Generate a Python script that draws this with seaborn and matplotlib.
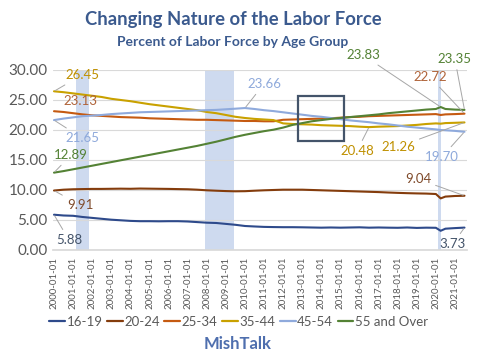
import numpy as np
import pandas as pd
import matplotlib
matplotlib.use("Agg")
import matplotlib.pyplot as plt
import matplotlib.dates as mdates
from matplotlib.patches import Rectangle
import seaborn as sns

# ---------------- data ----------------
dates = ["2000-01", "2000-07", "2001-01", "2001-07", "2002-01", "2002-07", "2003-01", "2003-07",
         "2004-01", "2004-07", "2005-01", "2005-07", "2006-01", "2006-07", "2007-01", "2007-07",
         "2008-01", "2008-07", "2009-01", "2009-07", "2010-01", "2010-07", "2011-01", "2011-07",
         "2012-01", "2012-07", "2013-01", "2013-07", "2014-01", "2014-07", "2015-01", "2015-07",
         "2016-01", "2016-07", "2017-01", "2017-07", "2018-01", "2018-07", "2019-01", "2019-07",
         "2020-01", "2020-04", "2020-07", "2021-01", "2021-07"]

age_16_19 = [5.88, 5.75, 5.70, 5.50, 5.35, 5.20, 5.05, 4.95, 4.85, 4.80, 4.80, 4.78, 4.80, 4.80, 4.75,
             4.65, 4.55, 4.50, 4.35, 4.20, 4.00, 3.92, 3.85, 3.82, 3.80, 3.80, 3.78, 3.75, 3.72, 3.75,
             3.72, 3.75, 3.78, 3.72, 3.75, 3.72, 3.70, 3.75, 3.68, 3.72, 3.70, 3.20, 3.55, 3.65, 3.73]
age_20_24 = [9.91, 10.05, 10.12, 10.15, 10.18, 10.18, 10.20, 10.22, 10.20, 10.24, 10.22, 10.20, 10.18,
             10.15, 10.12, 10.05, 9.95, 9.88, 9.82, 9.78, 9.80, 9.88, 9.95, 10.00, 10.05, 10.05, 10.05,
             10.00, 9.95, 9.90, 9.85, 9.80, 9.75, 9.70, 9.65, 9.58, 9.52, 9.47, 9.43, 9.40, 9.33, 8.60,
             8.90, 9.00, 9.04]
age_25_34 = [23.13, 23.00, 22.80, 22.60, 22.45, 22.35, 22.25, 22.15, 22.10, 22.05, 21.95, 21.90, 21.85,
             21.80, 21.75, 21.70, 21.70, 21.65, 21.60, 21.55, 21.50, 21.50, 21.45, 21.45, 21.70, 21.75,
             21.80, 21.85, 21.90, 21.95, 22.05, 22.15, 22.20, 22.30, 22.35, 22.40, 22.45, 22.50, 22.55,
             22.60, 22.65, 22.50, 22.60, 22.65, 22.72]
age_35_44 = [26.45, 26.30, 26.10, 25.90, 25.70, 25.50, 25.20, 25.00, 24.80, 24.55, 24.30, 24.10, 23.90,
             23.70, 23.50, 23.30, 23.00, 22.80, 22.50, 22.20, 22.00, 21.85, 21.75, 21.65, 21.10, 21.00,
             20.95, 20.90, 20.80, 20.75, 20.70, 20.65, 20.55, 20.48, 20.55, 20.60, 20.65, 20.75, 20.85,
             21.00, 21.10, 21.05, 21.15, 21.20, 21.26]
age_45_54 = [21.65, 21.90, 22.10, 22.30, 22.40, 22.50, 22.65, 22.75, 22.85, 22.95, 23.00, 23.05, 23.10,
             23.15, 23.20, 23.25, 23.30, 23.35, 23.45, 23.55, 23.66, 23.50, 23.30, 23.15, 22.95, 22.75,
             22.55, 22.35, 22.20, 22.00, 21.80, 21.60, 21.45, 21.30, 21.10, 20.95, 20.75, 20.55, 20.40,
             20.25, 20.10, 20.00, 19.95, 19.85, 19.70]
age_55_over = [12.89, 13.15, 13.45, 13.75, 14.05, 14.35, 14.65, 14.95, 15.25, 15.55, 15.85, 16.15, 16.45,
               16.75, 17.05, 17.35, 17.70, 18.05, 18.45, 18.85, 19.20, 19.50, 19.80, 20.05, 20.40, 20.85,
               21.15, 21.45, 21.65, 21.85, 22.00, 22.15, 22.30, 22.45, 22.60, 22.80, 22.95, 23.10, 23.25,
               23.40, 23.50, 23.83, 23.50, 23.40, 23.35]

groups = ["16-19", "20-24", "25-34", "35-44", "45-54", "55 and Over"]
series = [age_16_19, age_20_24, age_25_34, age_35_44, age_45_54, age_55_over]

recessions = [("2001-03-01", "2001-11-01"), ("2007-12-01", "2009-06-01"), ("2020-02-01", "2020-04-01")]
tick_years = list(range(2000, 2022))
y_ticks = [0, 5, 10, 15, 20, 25, 30]

# ---------------- styling ----------------
line_colors = ["#2E4A8B", "#843C0C", "#C55A11", "#C9A100", "#8FAADC", "#548235"]
label_colors = ["#44546A", "#7F4A2A", "#B0643A", "#BF9000", "#8EA9DB", "#548235"]

sns.set_theme(style="white")
plt.rcParams["font.family"] = ["Lato", "DejaVu Sans"]

dt = pd.to_datetime(dates)
df = pd.concat([pd.DataFrame({"date": dt, "value": v, "group": g}) for g, v in zip(groups, series)],
               ignore_index=True)

fig = plt.figure(figsize=(5.0, 3.58), dpi=100)
ax = fig.add_axes([0.106, 0.3017, 0.828, 0.5028])

for a, b in recessions:
    ax.axvspan(pd.Timestamp(a), pd.Timestamp(b), color="#B4C7E7", alpha=0.65, lw=0, zorder=0)

sns.lineplot(data=df, x="date", y="value", hue="group", hue_order=groups,
             palette=dict(zip(groups, line_colors)), linewidth=1.5, ax=ax, legend=False, zorder=3)

ax.set_ylim(0, 30)
ax.set_xlim(pd.Timestamp("1999-12-13"), pd.Timestamp("2021-08-18"))
ax.set_yticks(y_ticks)
ax.set_yticklabels([f"{t:.2f}" for t in y_ticks], fontsize=11, color="#595959")
xt = [pd.Timestamp(f"{y}-01-01") for y in tick_years]
ax.set_xticks(xt)
ax.set_xticklabels([t.strftime("%Y-%m-%d") for t in xt], rotation=90, fontsize=7, color="#595959")
ax.tick_params(axis="y", length=0, pad=4)
ax.tick_params(axis="x", length=3, color="#D9D9D9", pad=2)
ax.grid(axis="y", color="#D9D9D9", lw=0.8, zorder=1)
ax.grid(axis="x", visible=False)
for s in ["top", "right", "left"]:
    ax.spines[s].set_visible(False)
ax.spines["bottom"].set_color("#D9D9D9")
ax.set_xlabel("")
ax.set_ylabel("")

# highlighted box
x0 = mdates.date2num(pd.Timestamp("2012-10-08"))
x1 = mdates.date2num(pd.Timestamp("2015-03-07"))
ax.add_patch(Rectangle((x0, 18.17), x1 - x0, 7.5, fill=False, edgecolor="#44546A", lw=1.6, zorder=5))

# data labels: (series index, point index, text position x px, text y px, leader?)
def px2date(px):
    yrs = 2000 + (px - 54) / 19.1
    return mdates.date2num(pd.Timestamp("2000-01-01")) + (yrs - 2000) * 365.25

def py2val(py):
    return (250 - py) / 6.0

labels = [
    (3, 0, 82, 75, True), (2, 0, 80, 101, False), (4, 0, 82, 138, True),
    (5, 0, 71, 155, True), (1, 0, 80, 205, True), (0, 0, 69, 240, True),
    (4, 20, 264, 84, True), (5, 41, 363, 55, True), (5, 44, 455, 59, True),
    (2, 44, 430, 77, True), (3, 33, 357, 151, True), (3, 44, 398, 147, True),
    (4, 44, 442, 157, True), (1, 44, 418, 179, True), (0, 44, 453, 244, True),
]
for si, pi, tx, ty, leader in labels:
    val = series[si][pi]
    xy = (mdates.date2num(dt[pi]), val)
    kw = {}
    if leader:
        kw["arrowprops"] = dict(arrowstyle="-", color="#A6A6A6", lw=0.7, shrinkA=1, shrinkB=1)
    ax.annotate(f"{val:.2f}", xy=xy, xytext=(px2date(tx), py2val(ty)), textcoords="data",
                ha="center", va="center", fontsize=9.5, color=label_colors[si],
                annotation_clip=False, zorder=6, **kw)

# legend
handles = [plt.Line2D([0], [0], color=c, lw=1.6) for c in line_colors]
fig.legend(handles, groups, loc="center", bbox_to_anchor=(0.477, 1 - 322 / 358), ncol=6,
           frameon=False, fontsize=9.5, handlelength=1.2, handletextpad=0.1, columnspacing=0.35,
           labelcolor="#595959")

fig.text(233.5 / 500, 1 - 20 / 358, "Changing Nature of the Labor Force", ha="center", va="center",
         fontsize=13.3, fontweight="bold", color="#3B5A8E")
fig.text(233 / 500, 1 - 42 / 358, "Percent of Labor Force by Age Group", ha="center", va="center",
         fontsize=10, fontweight="bold", color="#3B5A8E")
fig.text(238 / 500, 1 - 344 / 358, "MishTalk", ha="center", va="center",
         fontsize=12, fontweight="bold", color="#4F6FAE")

fig.savefig("out.png", dpi=100)
